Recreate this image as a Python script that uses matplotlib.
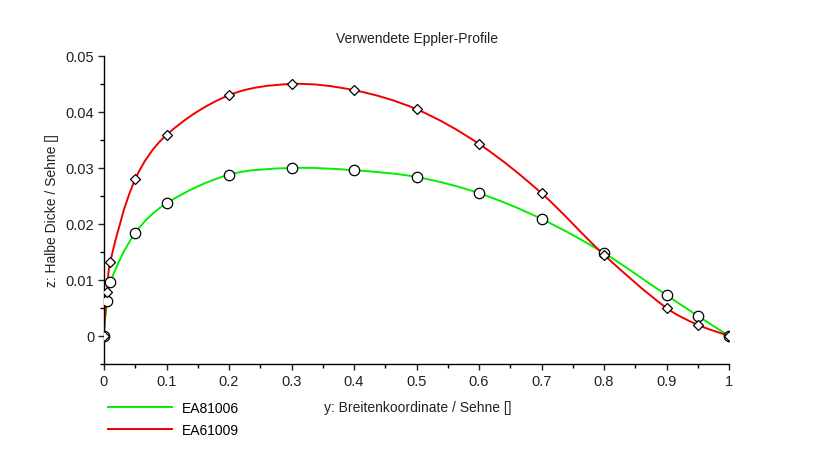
import numpy as np
import matplotlib
matplotlib.use("Agg")
import matplotlib.pyplot as plt
from matplotlib.path import Path
from matplotlib.patches import PathPatch
from matplotlib.lines import Line2D
from matplotlib.ticker import FuncFormatter, MultipleLocator

plt.rcParams["font.family"] = ["Liberation Sans", "DejaVu Sans"]

# profile stations (chord fraction) and half thickness
x_stations = [0.0, 0.005, 0.01, 0.05, 0.1, 0.2, 0.3, 0.4, 0.5, 0.6, 0.7, 0.8, 0.9, 0.95, 1.0]
z_ea81006 = [0.0, 0.0062, 0.0097, 0.0184, 0.0237, 0.0288, 0.0300, 0.0296, 0.0284,
             0.0255, 0.0209, 0.0148, 0.0073, 0.0036, 0.0]
z_ea61009 = [0.0, 0.0078, 0.0133, 0.0280, 0.0359, 0.0430, 0.0450, 0.0439, 0.0405,
             0.0343, 0.0255, 0.0145, 0.0050, 0.0020, 0.0]

x_ticks = [0, 0.1, 0.2, 0.3, 0.4, 0.5, 0.6, 0.7, 0.8, 0.9, 1.0]
y_ticks = [0, 0.01, 0.02, 0.03, 0.04, 0.05]

GREEN = "#00f000"
RED = "#f00000"

W, H = 834, 460
fig = plt.figure(figsize=(W / 100, H / 100), dpi=100)
ax = fig.add_axes([104 / W, (H - 365) / H, (729 - 104) / W, (365 - 57) / H])
ax.set_xlim(0, 1)
ax.set_ylim(-0.005, 0.05)


def smooth_path(ax, xs, zs):
    # bezier through the points, tangents built in pixel space
    pts = ax.transData.transform(np.column_stack([xs, zs]))
    n = len(pts)
    tang = np.zeros_like(pts)
    for i in range(n):
        if i == 0:
            d = np.array([0.0, 1.0])
        elif i == n - 1:
            d = pts[i] - pts[i - 1]
        else:
            d = pts[i + 1] - pts[i - 1]
        tang[i] = d / np.linalg.norm(d)
    verts = [pts[0]]
    codes = [Path.MOVETO]
    for i in range(n - 1):
        seg = np.linalg.norm(pts[i + 1] - pts[i]) / 3.0
        verts += [pts[i] + tang[i] * seg, pts[i + 1] - tang[i + 1] * seg, pts[i + 1]]
        codes += [Path.CURVE4] * 3
    verts = ax.transData.inverted().transform(np.array(verts))
    return Path(verts, codes)


for zs, color in ((z_ea81006, GREEN), (z_ea61009, RED)):
    ax.add_patch(PathPatch(smooth_path(ax, x_stations, zs), facecolor="none",
                           edgecolor=color, linewidth=1.4, zorder=2))

ax.plot(x_stations, z_ea81006, linestyle="none", marker="o", markersize=7.5,
        markerfacecolor="white", markeredgecolor="black", markeredgewidth=0.9,
        zorder=3)
ax.plot(x_stations, z_ea61009, linestyle="none", marker="D", markersize=5.2,
        markerfacecolor="white", markeredgecolor="black", markeredgewidth=0.9,
        zorder=3)

for side in ("top", "right"):
    ax.spines[side].set_visible(False)
for side in ("left", "bottom"):
    ax.spines[side].set_linewidth(1.0)

fmt = FuncFormatter(lambda v, p: "%g" % round(v, 4))
ax.set_xticks(x_ticks)
ax.set_yticks(y_ticks)
ax.xaxis.set_major_formatter(fmt)
ax.yaxis.set_major_formatter(fmt)
ax.xaxis.set_minor_locator(MultipleLocator(0.05))
ax.yaxis.set_minor_locator(MultipleLocator(0.005))
ax.tick_params(which="major", direction="out", length=4, width=1, labelsize=10.5,
               colors="#222222")
ax.tick_params(axis="x", which="major", pad=3)
ax.tick_params(axis="y", which="major", pad=3)
ax.tick_params(which="minor", direction="out", length=3, width=1)

ax.set_title("Verwendete Eppler-Profile", fontsize=10, color="#222222", pad=10)
fig.text(418 / W, 1 - 408 / H, "y: Breitenkoordinate / Sehne []", fontsize=10,
         color="#222222", ha="center", va="center")
fig.text(52 / W, 1 - 211 / H, "z: Halbe Dicke / Sehne []", fontsize=10,
         color="#222222", ha="center", va="center", rotation=90)

handles = [Line2D([], [], color=GREEN, linewidth=1.4),
           Line2D([], [], color=RED, linewidth=1.4)]
fig.legend(handles, ["EA81006", "EA61009"], loc="upper left",
           bbox_to_anchor=(108 / W, 1 - 402 / H), frameon=False, fontsize=10,
           handlelength=4.6, handletextpad=0.7, labelspacing=0.6,
           borderpad=0, borderaxespad=0)

fig.savefig("out.png", dpi=100)
